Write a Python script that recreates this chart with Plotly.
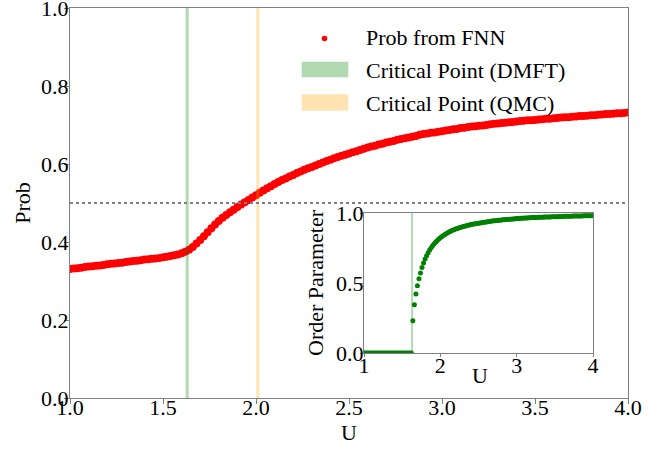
import plotly.graph_objects as go

# ---------------- data ----------------
U = [
    1.00, 1.02, 1.04, 1.06, 1.08, 1.10, 1.12, 1.14, 1.16, 1.18,
    1.20, 1.22, 1.24, 1.26, 1.28, 1.30, 1.32, 1.34, 1.36, 1.38,
    1.40, 1.42, 1.44, 1.46, 1.48, 1.50, 1.52, 1.54, 1.56, 1.58,
    1.60, 1.62, 1.64, 1.66, 1.68, 1.70, 1.72, 1.74, 1.76, 1.78,
    1.80, 1.82, 1.84, 1.86, 1.88, 1.90, 1.92, 1.94, 1.96, 1.98,
    2.00, 2.02, 2.04, 2.06, 2.08, 2.10, 2.12, 2.14, 2.16, 2.18,
    2.20, 2.22, 2.24, 2.26, 2.28, 2.30, 2.32, 2.34, 2.36, 2.38,
    2.40, 2.42, 2.44, 2.46, 2.48, 2.50, 2.52, 2.54, 2.56, 2.58,
    2.60, 2.62, 2.64, 2.66, 2.68, 2.70, 2.72, 2.74, 2.76, 2.78,
    2.80, 2.82, 2.84, 2.86, 2.88, 2.90, 2.92, 2.94, 2.96, 2.98,
    3.00, 3.02, 3.04, 3.06, 3.08, 3.10, 3.12, 3.14, 3.16, 3.18,
    3.20, 3.22, 3.24, 3.26, 3.28, 3.30, 3.32, 3.34, 3.36, 3.38,
    3.40, 3.42, 3.44, 3.46, 3.48, 3.50, 3.52, 3.54, 3.56, 3.58,
    3.60, 3.62, 3.64, 3.66, 3.68, 3.70, 3.72, 3.74, 3.76, 3.78,
    3.80, 3.82, 3.84, 3.86, 3.88, 3.90, 3.92, 3.94, 3.96, 3.98,
    4.00,
]

prob_fnn = [
    0.331, 0.332, 0.333, 0.334, 0.336, 0.337, 0.338, 0.339, 0.340, 0.341,
    0.343, 0.344, 0.345, 0.346, 0.347, 0.349, 0.350, 0.351, 0.352, 0.353,
    0.355, 0.356, 0.357, 0.358, 0.359, 0.361, 0.362, 0.364, 0.366, 0.368,
    0.371, 0.375, 0.380, 0.387, 0.396, 0.405, 0.415, 0.425, 0.435, 0.445,
    0.454, 0.462, 0.469, 0.476, 0.483, 0.490, 0.496, 0.502, 0.508, 0.514,
    0.520, 0.526, 0.532, 0.538, 0.543, 0.549, 0.554, 0.559, 0.563, 0.568,
    0.572, 0.577, 0.581, 0.585, 0.589, 0.592, 0.596, 0.600, 0.604, 0.608,
    0.611, 0.615, 0.618, 0.621, 0.624, 0.627, 0.630, 0.633, 0.636, 0.639,
    0.642, 0.645, 0.647, 0.650, 0.652, 0.655, 0.657, 0.659, 0.662, 0.664,
    0.666, 0.668, 0.670, 0.672, 0.675, 0.677, 0.678, 0.680, 0.681, 0.683,
    0.684, 0.686, 0.687, 0.689, 0.690, 0.692, 0.693, 0.695, 0.696, 0.697,
    0.698, 0.699, 0.700, 0.702, 0.703, 0.704, 0.705, 0.706, 0.707, 0.708,
    0.709, 0.710, 0.711, 0.712, 0.712, 0.713, 0.714, 0.715, 0.716, 0.716,
    0.717, 0.718, 0.719, 0.720, 0.720, 0.721, 0.722, 0.723, 0.723, 0.724,
    0.725, 0.725, 0.726, 0.727, 0.728, 0.728, 0.729, 0.730, 0.730, 0.731,
    0.732,
]

order_param = [
    0.000, 0.000, 0.000, 0.000, 0.000, 0.000, 0.000, 0.000, 0.000, 0.000,
    0.000, 0.000, 0.000, 0.000, 0.000, 0.000, 0.000, 0.000, 0.000, 0.000,
    0.000, 0.000, 0.000, 0.000, 0.000, 0.000, 0.000, 0.000, 0.000, 0.000,
    0.000, 0.000, 0.231, 0.345, 0.421, 0.481, 0.531, 0.571, 0.610, 0.643,
    0.671, 0.695, 0.716, 0.735, 0.752, 0.767, 0.781, 0.793, 0.804, 0.814,
    0.823, 0.832, 0.840, 0.847, 0.854, 0.860, 0.866, 0.871, 0.876, 0.881,
    0.885, 0.889, 0.893, 0.897, 0.900, 0.903, 0.906, 0.909, 0.912, 0.914,
    0.917, 0.919, 0.921, 0.923, 0.925, 0.927, 0.929, 0.931, 0.932, 0.934,
    0.936, 0.938, 0.939, 0.941, 0.942, 0.944, 0.945, 0.946, 0.948, 0.949,
    0.950, 0.951, 0.952, 0.953, 0.954, 0.955, 0.956, 0.957, 0.958, 0.959,
    0.960, 0.961, 0.962, 0.962, 0.963, 0.964, 0.964, 0.965, 0.966, 0.966,
    0.967, 0.967, 0.968, 0.968, 0.969, 0.969, 0.970, 0.970, 0.971, 0.971,
    0.972, 0.972, 0.972, 0.973, 0.973, 0.974, 0.974, 0.974, 0.975, 0.975,
    0.975, 0.976, 0.976, 0.976, 0.977, 0.977, 0.977, 0.978, 0.978, 0.978,
    0.979, 0.979, 0.979, 0.979, 0.980, 0.980, 0.980, 0.980, 0.981, 0.981,
    0.981,
]

U_c_dmft = 1.63
U_c_qmc = 2.01
threshold = 0.5

main_xticks = [1.0, 1.5, 2.0, 2.5, 3.0, 3.5, 4.0]
main_yticks = [0.0, 0.2, 0.4, 0.6, 0.8, 1.0]
inset_xticks = [1, 2, 3, 4]
inset_yticks = [0.0, 0.5, 1.0]

legend_labels = ["Prob from FNN", "Critical Point (DMFT)", "Critical Point (QMC)"]

# ---------------- styling ----------------
FONT = "Liberation Serif"
FS = 22
AX = "#808080"
GREEN_A = "rgba(0,128,0,0.3)"
ORANGE_A = "rgba(255,165,0,0.3)"

TOP, BOT = 8, 398          # plot-area pixel rows
LEFT, RIGHT = 70, 628      # plot-area pixel columns

fig = go.Figure()

fig.add_trace(go.Scatter(
    x=U, y=prob_fnn, mode="markers", name=legend_labels[0],
    marker=dict(color="red", size=8, line=dict(width=0)),
    showlegend=False, xaxis="x", yaxis="y",
))

fig.add_trace(go.Scatter(
    x=U, y=order_param, mode="markers", name="Order Parameter",
    marker=dict(color="green", size=5, line=dict(width=0)),
    showlegend=False, xaxis="x2", yaxis="y2",
))

# vertical critical lines (main)
fig.add_shape(type="line", xref="x", yref="y domain", x0=U_c_dmft, x1=U_c_dmft,
              y0=0, y1=1, line=dict(color=GREEN_A, width=3), layer="above")
fig.add_shape(type="line", xref="x", yref="y domain", x0=U_c_qmc, x1=U_c_qmc,
              y0=0, y1=1, line=dict(color=ORANGE_A, width=3), layer="above")
# threshold dotted line
fig.add_shape(type="line", xref="x domain", yref="y", x0=0, x1=1,
              y0=threshold, y1=threshold,
              line=dict(color="gray", width=2, dash="dot"), layer="above")
# inset critical line
fig.add_shape(type="line", xref="x2", yref="y2 domain", x0=U_c_dmft, x1=U_c_dmft,
              y0=0, y1=1, line=dict(color=GREEN_A, width=2), layer="above")

# ---------------- manual legend ----------------
def px(X):
    return (X - LEFT) / float(RIGHT - LEFT)

def py(Y):
    return (BOT - Y) / float(BOT - TOP)

fig.add_shape(type="circle", xref="paper", yref="paper",
              xsizemode="pixel", ysizemode="pixel",
              xanchor=px(324.5), yanchor=py(38.5),
              x0=-2.8, x1=2.8, y0=-2.8, y1=2.8,
              fillcolor="red", line=dict(width=0))
fig.add_shape(type="rect", xref="paper", yref="paper",
              x0=px(301.7), x1=px(348.3), y0=py(77.3), y1=py(61.7),
              fillcolor=GREEN_A, line=dict(width=0))
fig.add_shape(type="rect", xref="paper", yref="paper",
              x0=px(301.7), x1=px(348.3), y0=py(110.7), y1=py(94.3),
              fillcolor=ORANGE_A, line=dict(width=0))
for lab, Y in zip(legend_labels, [38.0, 70.5, 103.0]):
    fig.add_annotation(text=lab, xref="paper", yref="paper", x=px(364), y=py(Y),
                       xanchor="left", yanchor="middle", showarrow=False,
                       font=dict(family=FONT, size=FS, color="black"))

# inset axis titles
fig.add_annotation(text="U", xref="paper", yref="paper", x=px(480), y=py(375),
                   xanchor="center", yanchor="middle", showarrow=False,
                   font=dict(family=FONT, size=FS, color="black"))
fig.add_annotation(text="Order Parameter", xref="paper", yref="paper",
                   x=px(315), y=py(283), textangle=-90,
                   xanchor="center", yanchor="middle", showarrow=False,
                   font=dict(family=FONT, size=FS, color="black"))

axis_common = dict(showgrid=False, zeroline=False, showline=True, mirror=True,
                   linecolor=AX, linewidth=1, ticks="outside", tickcolor=AX,
                   tickwidth=1, automargin=False, ticklabeloverflow="allow",
                   tickfont=dict(family=FONT, size=FS, color="black"))

fig.update_layout(
    width=670, height=449,
    margin=dict(l=LEFT, r=670 - RIGHT, t=TOP, b=449 - BOT),
    paper_bgcolor="white", plot_bgcolor="white",
    font=dict(family=FONT, size=FS, color="black"),
    xaxis=dict(range=[1, 4], tickvals=main_xticks, tickformat=".1f", ticklen=5,
               ticklabelstandoff=-15,
               title=dict(text="U", font=dict(family=FONT, size=FS), standoff=2),
               **axis_common),
    yaxis=dict(range=[0, 1], tickvals=main_yticks, tickformat=".1f", ticklen=5,
               ticklabelstandoff=-9,
               title=dict(text="Prob", font=dict(family=FONT, size=FS), standoff=4),
               **axis_common),
    xaxis2=dict(domain=[px(364), px(593)], anchor="y2", range=[1, 4],
                tickvals=inset_xticks, tickformat="d", ticklen=3,
                ticklabelstandoff=-10, **axis_common),
    yaxis2=dict(domain=[py(353), py(213)], anchor="x2", range=[0, 1],
                tickvals=inset_yticks, tickformat=".1f", ticklen=3,
                ticklabelstandoff=-8, **axis_common),
    showlegend=False,
)

fig.write_html("out.html", config={"displayModeBar": False},
               post_script="document.body.style.margin='0px';")
